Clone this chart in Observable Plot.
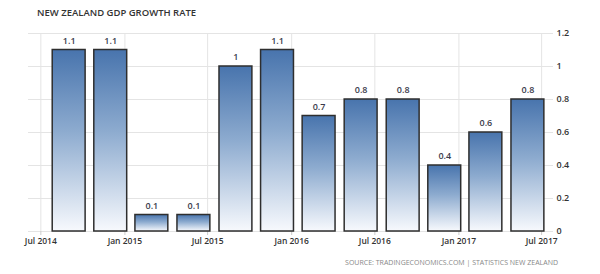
<!DOCTYPE html>
<html>
<head>
<meta charset="utf-8">
<script src="https://cdn.jsdelivr.net/npm/d3@7"></script>
<script src="https://cdn.jsdelivr.net/npm/@observablehq/plot@0.6"></script>
<style>
  html, body { margin: 0; padding: 0; background: #fff; }
  body { width: 600px; height: 274px; overflow: hidden; font-family: "Open Sans", "DejaVu Sans", sans-serif; }
  #title { height: 24px; box-sizing: border-box; padding: 6px 0 0 37px; font-size: 9.5px; font-weight: 600; color: #333; letter-spacing: 0; }
  #source { height: 25px; box-sizing: border-box; padding: 9px 42px 0 0; text-align: right; font-size: 7px; color: #888; }
  svg { display: block; }
</style>
</head>
<body>
<div id="title">NEW ZEALAND GDP GROWTH RATE</div>
<div id="chart"></div>
<div id="source">SOURCE: TRADINGECONOMICS.COM | STATISTICS NEW ZEALAND</div>
<script>
const quarters = ["2014-09-01","2014-12-01","2015-03-01","2015-06-01","2015-09-01","2015-12-01","2016-03-01","2016-06-01","2016-09-01","2016-12-01","2017-03-01","2017-06-01"];
const growth = [1.1, 1.1, 0.1, 0.1, 1, 1.1, 0.7, 0.8, 0.8, 0.4, 0.6, 0.8];
const xTickDates = ["2014-07-01","2015-01-01","2015-07-01","2016-01-01","2016-07-01","2017-01-01","2017-07-01"];
const yTicks = [0, 0.2, 0.4, 0.6, 0.8, 1, 1.2];

const data = quarters.map((q, i) => ({date: new Date(q), value: growth[i]}));
const xTicks = xTickDates.map(d => new Date(d));
const halfBar = 36; // days

const fontStyle = {fontWeight: 600, fill: "#333"};

const chart = Plot.plot({
  width: 600,
  height: 225,
  marginLeft: 28,
  marginRight: 47,
  marginTop: 9,
  marginBottom: 18,
  style: {fontFamily: "'Open Sans', 'DejaVu Sans', sans-serif", background: "#fff"},
  x: {type: "utc", domain: [new Date("2014-06-04"), new Date("2017-07-27")]},
  y: {domain: [0, 1.2]},
  marks: [
    Plot.gridY(yTicks, {stroke: "#e4e4e4", strokeOpacity: 1}),
    Plot.gridX(xTicks, {stroke: "#e4e4e4", strokeOpacity: 1}),
    Plot.axisX(xTicks, {tickFormat: d3.utcFormat("%b %Y"), tickSize: 4, tickPadding: 2, stroke: "#ccc", fontSize: 8.5, ...fontStyle, label: null}),
    Plot.axisY(yTicks, {anchor: "right", tickSize: 0, tickPadding: 3, tickFormat: d => String(+d.toFixed(1)), fontSize: 9, ...fontStyle, label: null}),
    Plot.rectY(data, {
      x1: d => d3.utcDay.offset(d.date, -halfBar),
      x2: d => d3.utcDay.offset(d.date, halfBar),
      y: "value",
      fill: "url(#barGrad)",
      stroke: "#2e2e2e",
      strokeWidth: 1.5
    }),
    Plot.text(data, {x: "date", y: "value", text: d => String(d.value), dy: -9, fontSize: 9, fontWeight: 600, fill: "#3a3a4a"})
  ]
});

const defs = d3.select(chart).insert("defs", ":first-child");
const grad = defs.append("linearGradient").attr("id", "barGrad").attr("x1", 0).attr("y1", 0).attr("x2", 0).attr("y2", 1);
grad.append("stop").attr("offset", "0%").attr("stop-color", "#4874ad");
grad.append("stop").attr("offset", "45%").attr("stop-color", "#8dabcf");
grad.append("stop").attr("offset", "100%").attr("stop-color", "#f7f9fd");

document.getElementById("chart").append(chart);
</script>
</body>
</html>
